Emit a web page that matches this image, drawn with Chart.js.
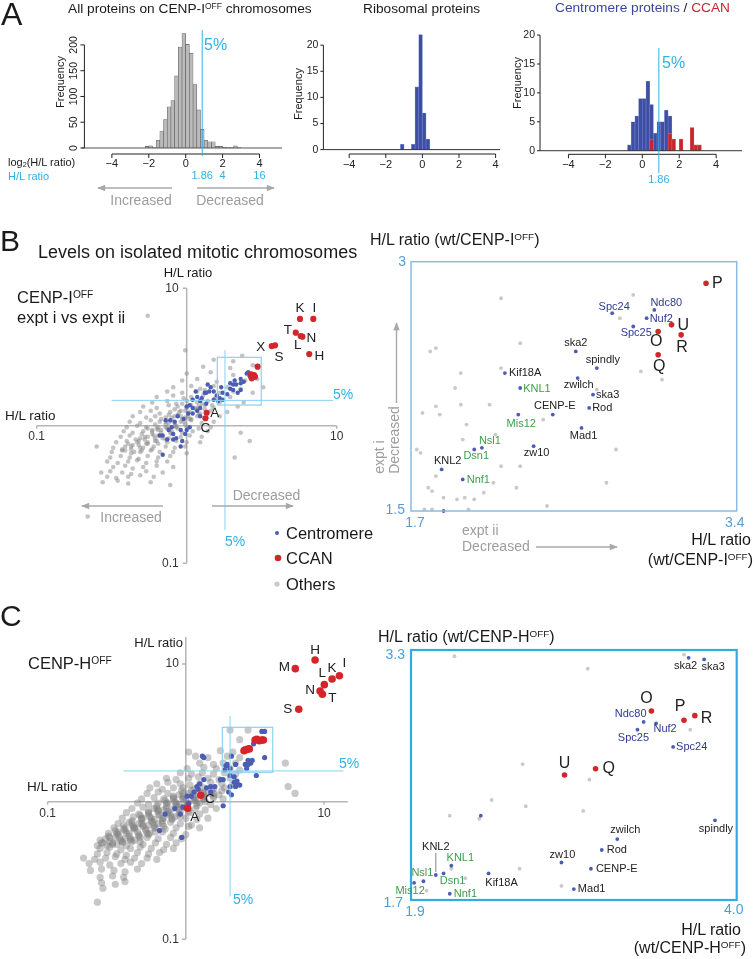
<!DOCTYPE html>
<html><head><meta charset="utf-8">
<script src="https://cdn.jsdelivr.net/npm/chart.js@4.4.1/dist/chart.umd.min.js"></script>
<style>
html,body{margin:0;padding:0;background:#fff;}
#fig{position:relative;width:754px;height:959px;overflow:hidden;font-family:"Liberation Sans",Arial,Helvetica,sans-serif;}
#fig canvas{position:absolute;left:0;top:0;}
#fig svg{position:absolute;left:0;top:0;}
.t{position:absolute;white-space:nowrap;line-height:1;}
</style></head><body><div id="fig"></div>
<script>
// ================= DATA =================
// Panel A : histograms of log2(H/L ratio), bin width 0.2 (bin centres)
const allBins   = [-2.1,-1.9,-1.7,-1.5,-1.3,-1.1,-0.9,-0.7,-0.5,-0.3,-0.1,0.1,0.3,0.5,0.7,0.9,1.1,1.3,1.5,1.7,1.9,2.1,2.3,2.5,2.7,2.9];
const allCounts = [3,4,1,15,33,55,80,92,140,196,222,201,184,123,74,36,15,12,12,3,3,2,1,1,4,1];
const riboBins   = [-1.1,-0.5,-0.3,-0.1,0.1,0.3];
const riboCounts = [1,1,12,22,7,2];
const centroBins   = [-0.7,-0.5,-0.3,-0.1,0.1,0.3,0.5,0.7,0.9,1.1,1.3,1.5];
const centroCounts = [1,5,6,9,9,12,8,3,5,5,7,6];
const ccanBins   = [0.5,1.5,1.7,2.1,2.7,2.9,3.1];
const ccanCounts = [2,3,2,2,4,1,1];
const log2Ticks = [-4,-2,0,2,4];
const log2TickLabels = ['\u22124','\u22122','0','2','4'];
const freqTicksAll = [0,50,100,150,200];
const freqTicksSmall = [0,5,10,15,20];
const ratioTicks = [1.86,4,16];
const cutoffRatio = 1.86;

// Panel B left : log10(H/L ratio), x = expt ii, y = expt i
const bCcanNames = ['K','I','T','L','N','X','S','H','','','','','','','A','C'];
const bCcanX = [0.755,0.844,0.727,0.760,0.771,0.567,0.589,0.817,0.473,0.429,0.449,0.433,0.455,0.440,0.133,0.125];
const bCcanY = [0.777,0.777,0.677,0.653,0.648,0.580,0.585,0.522,0.430,0.375,0.369,0.345,0.357,0.362,0.095,0.055];
const bCentromere = [[-0.16,-0.21],[-0.04,-0.15],[-0.03,-0.11],[-0.09,-0.06],[-0.07,-0.09],[-0.12,-0.03],[-0.16,-0.07],[-0.18,-0.07],[-0.10,-0.01],[-0.08,0.03],[-0.11,0.04],[-0.14,0.04],[-0.06,0.07],[-0.02,0.05],[0.01,0.09],[0.02,0.15],[0.04,0.13],[0.07,0.11],[0.09,0.07],[0.04,0.19],[0.07,0.21],[0.09,0.18],[0.10,0.20],[0.13,0.16],[0.13,0.24],[0.16,0.28],[0.15,0.25],[0.18,0.19],[0.20,0.22],[0.21,0.18],[0.22,0.20],[0.24,0.19],[0.24,0.24],[0.23,0.28],[0.27,0.23],[0.29,0.31],[0.29,0.27],[0.31,0.26],[0.32,0.33],[0.33,0.30],[0.34,0.24],[0.36,0.31],[0.36,0.34],[0.38,0.32],[0.40,0.38],[0.41,0.39],[0.42,0.36],[0.44,0.37],[0.14,0.30],[0.12,0.24],[0.09,0.13],[0.00,-0.03],[0.02,-0.01],[-0.01,-0.06],[-0.04,-0.03],[0.04,0.09],[-0.09,-0.10],[-0.13,-0.10],[0.00,0.14],[0.06,0.25],[0.18,0.25],[0.36,0.26],[0.31,0.30]];
const bOthers = [[-0.26,0.80],[-0.01,0.55],[0.37,0.51],[0.18,0.48],[0.31,0.47],[0.11,0.43],[0.29,0.42],[0.44,0.44],[0.00,0.38],[0.16,0.39],[0.31,0.37],[0.41,0.38],[-0.03,0.33],[0.07,0.34],[0.20,0.32],[0.39,0.33],[0.47,0.34],[-0.09,0.28],[0.03,0.29],[0.09,0.27],[0.18,0.29],[0.27,0.28],[0.36,0.27],[0.51,0.28],[-0.13,0.25],[-0.03,0.24],[0.07,0.25],[0.12,0.26],[0.22,0.24],[0.31,0.25],[0.44,0.24],[-0.20,0.21],[-0.09,0.22],[-0.02,0.20],[0.03,0.21],[0.11,0.22],[0.19,0.20],[0.29,0.21],[-0.23,0.17],[-0.13,0.18],[-0.07,0.16],[0.00,0.18],[0.07,0.17],[0.14,0.18],[0.22,0.17],[0.38,0.17],[-0.29,0.14],[-0.20,0.13],[-0.12,0.15],[-0.06,0.14],[0.00,0.13],[0.08,0.14],[0.18,0.13],[0.34,0.14],[-0.31,0.10],[-0.24,0.11],[-0.18,0.09],[-0.11,0.10],[-0.04,0.11],[0.02,0.10],[0.09,0.09],[0.16,0.11],[0.27,0.10],[-0.36,0.07],[-0.27,0.06],[-0.21,0.07],[-0.14,0.06],[-0.08,0.07],[-0.01,0.06],[0.07,0.07],[0.13,0.06],[0.22,0.07],[-0.38,0.03],[-0.31,0.02],[-0.24,0.04],[-0.18,0.03],[-0.12,0.02],[-0.04,0.03],[0.03,0.04],[0.10,0.02],[0.18,0.03],[-0.40,-0.01],[-0.33,0.00],[-0.27,-0.01],[-0.20,-0.02],[-0.14,-0.01],[-0.07,0.00],[0.00,-0.01],[0.08,-0.02],[0.16,-0.01],[-0.42,-0.04],[-0.36,-0.05],[-0.29,-0.04],[-0.23,-0.03],[-0.17,-0.05],[-0.10,-0.04],[-0.03,-0.05],[0.04,-0.04],[0.14,-0.04],[0.36,-0.05],[-0.44,-0.08],[-0.38,-0.07],[-0.31,-0.09],[-0.26,-0.08],[-0.19,-0.07],[-0.12,-0.09],[-0.04,-0.08],[0.02,-0.07],[0.10,-0.08],[-0.47,-0.12],[-0.40,-0.11],[-0.33,-0.12],[-0.27,-0.13],[-0.21,-0.11],[-0.13,-0.12],[-0.07,-0.11],[0.00,-0.12],[0.09,-0.12],[0.42,-0.11],[-0.60,-0.15],[-0.49,-0.16],[-0.41,-0.15],[-0.36,-0.14],[-0.29,-0.16],[-0.22,-0.15],[-0.14,-0.15],[-0.08,-0.16],[-0.01,-0.15],[-0.50,-0.19],[-0.43,-0.18],[-0.37,-0.20],[-0.31,-0.19],[-0.24,-0.18],[-0.18,-0.19],[-0.09,-0.19],[0.00,-0.20],[-0.51,-0.23],[-0.44,-0.22],[-0.38,-0.23],[-0.32,-0.24],[-0.26,-0.22],[-0.19,-0.23],[-0.11,-0.22],[0.32,-0.23],[-0.53,-0.26],[-0.46,-0.27],[-0.39,-0.26],[-0.33,-0.25],[-0.27,-0.27],[-0.20,-0.26],[-0.13,-0.26],[-0.49,-0.30],[-0.41,-0.29],[-0.36,-0.31],[-0.29,-0.30],[-0.20,-0.29],[-0.09,-0.30],[-0.57,-0.34],[-0.51,-0.33],[-0.43,-0.34],[-0.37,-0.35],[-0.27,-0.33],[-0.16,-0.34],[-0.53,-0.37],[-0.47,-0.38],[-0.39,-0.37],[-0.31,-0.36],[-0.22,-0.37],[-0.56,-0.41],[-0.46,-0.40],[-0.39,-0.42],[-0.24,-0.41],[-0.11,-0.43],[-0.66,-0.66],[-0.03,0.16],[0.03,0.15],[0.10,0.16],[0.17,0.15],[-0.08,0.12],[-0.01,0.11],[0.06,0.12],[0.12,0.12],[-0.12,0.08],[-0.06,0.08],[0.01,0.07],[0.08,0.08],[-0.17,0.05],[-0.10,0.04],[-0.03,0.05],[0.03,0.05],[-0.21,0.01],[-0.14,0.01],[-0.08,0.00],[-0.01,0.01],[-0.26,-0.02],[-0.19,-0.03],[-0.12,-0.02],[-0.06,-0.02],[-0.30,-0.06],[-0.23,-0.06],[-0.17,-0.07],[-0.10,-0.06],[-0.34,-0.10],[-0.28,-0.10],[-0.21,-0.09],[-0.14,-0.10],[-0.39,-0.13],[-0.32,-0.14],[-0.26,-0.13],[-0.19,-0.13],[-0.43,-0.17],[-0.37,-0.17],[-0.30,-0.18],[-0.23,-0.17],[0.00,0.14],[0.06,0.13],[0.12,0.15],[-0.05,0.10],[0.01,0.09],[0.07,0.11],[-0.10,0.06],[-0.04,0.07],[0.02,0.05],[-0.14,0.03],[-0.08,0.02],[-0.02,0.03],[-0.19,-0.01],[-0.13,-0.02],[-0.07,-0.01],[-0.23,-0.04],[-0.17,-0.03],[-0.11,-0.05],[-0.28,-0.08],[-0.22,-0.07],[-0.16,-0.09],[-0.32,-0.11],[-0.26,-0.12],[-0.20,-0.11],[-0.37,-0.15],[-0.31,-0.16],[-0.41,-0.18],[-0.35,-0.19]];
const bCutoff = {x:0.255, y:0.185};          // log10 of the 5% thresholds
const bZoomBox = {x0:0.204, x1:0.497, y0:0.151, y1:0.498};

// Panel B right : H/L ratio (zoom)
const bzCcanNames = ['P','U','R','O','Q'];
const bzCcanX = [3.24,3.06,3.11,2.99,2.99];
const bzCcanY = [2.87,2.62,2.56,2.58,2.44];
const bzCentroNames = ['Spc24','Ndc80','Nuf2','Spc25','ska2','spindly','Kif18A','zwilch','KNL1','ska3','Rod','CENP-E','Mis12','Mad1','Nsl1','Dsn1','zw10','KNL2','Nnf1',''];
const bzCentroX = [2.75,2.97,2.93,2.86,2.56,2.67,2.19,2.57,2.27,2.65,2.63,2.44,2.26,2.59,2.07,2.03,2.34,1.86,1.97,1.87];
const bzCentroY = [2.69,2.71,2.66,2.61,2.46,2.36,2.33,2.30,2.24,2.20,2.12,2.08,2.08,2.00,1.88,1.87,1.89,1.75,1.69,1.50];
const bzOthers = [[2.17,2.78],[2.86,2.80],[2.79,2.66],[2.27,2.51],[1.80,2.46],[1.83,2.48],[1.96,2.33],[2.17,2.36],[2.90,2.34],[3.01,2.29],[2.67,2.23],[1.93,2.24],[1.83,2.13],[1.96,2.14],[2.11,2.14],[1.76,2.09],[1.85,2.08],[2.39,2.05],[1.99,2.02],[2.14,1.96],[1.97,1.93],[1.73,1.87],[1.75,1.85],[2.77,1.87],[2.17,1.77],[2.27,1.77],[1.83,1.71],[2.13,1.67],[2.25,1.64],[2.72,1.67],[1.79,1.64],[1.81,1.62],[1.87,1.58],[1.94,1.57],[1.98,1.58],[2.03,1.57],[2.08,1.61],[2.41,1.53],[1.77,1.51],[1.81,1.51],[2.00,1.51]];
const bzRangeX = [1.7,3.4], bzRangeY = [1.5,3];

// Panel C left : log10(H/L ratio)
const cCcanNames = ['H','M','I','K','L','N','T','S','','','','','','','','','','C','A'];
const cCcanX = [0.935,0.792,1.111,1.058,1.002,0.971,0.988,0.817,0.428,0.445,0.459,0.421,0.501,0.513,0.532,0.549,0.561,0.108,0.014];
const cCcanY = [1.029,0.966,0.915,0.891,0.850,0.804,0.780,0.671,0.375,0.380,0.383,0.370,0.448,0.453,0.443,0.448,0.448,0.046,-0.048];
const cCentromere = [[0.12,0.33],[0.13,0.32],[0.33,0.33],[0.36,0.27],[0.30,0.27],[0.32,0.24],[0.29,0.26],[0.28,0.23],[0.32,0.19],[0.35,0.18],[0.37,0.13],[0.36,0.11],[0.32,0.11],[0.31,0.07],[0.33,0.05],[0.27,0.16],[0.25,0.16],[0.21,0.11],[0.18,0.11],[0.15,0.10],[0.09,0.09],[0.06,0.07],[0.04,0.04],[0.01,0.04],[0.02,-0.01],[-0.02,-0.04],[-0.04,-0.09],[-0.08,-0.05],[-0.15,-0.09],[-0.19,-0.21],[-0.03,-0.26],[0.45,0.30],[0.44,0.24],[0.47,0.28],[0.48,0.30],[0.43,0.27],[0.45,0.27],[0.51,0.19],[0.57,0.32],[0.55,0.51],[0.57,0.51],[0.49,0.42],[0.50,0.44],[0.44,0.38],[0.42,0.38],[0.27,-0.03],[0.08,0.11],[0.10,0.13],[0.13,0.16],[0.39,0.12],[0.37,0.15],[0.18,0.07],[0.35,0.14]];
const cOthers = [[0.32,0.52],[0.45,0.52],[0.39,0.45],[0.02,0.36],[0.25,0.37],[0.34,0.36],[0.07,0.33],[0.16,0.32],[0.30,0.33],[0.39,0.32],[0.72,0.28],[0.10,0.28],[0.20,0.27],[0.27,0.28],[0.36,0.28],[0.01,0.24],[0.13,0.25],[0.22,0.24],[0.32,0.24],[0.39,0.23],[-0.04,0.21],[0.04,0.20],[0.12,0.21],[0.20,0.20],[0.28,0.21],[0.36,0.20],[-0.14,0.17],[-0.07,0.16],[0.02,0.17],[0.09,0.18],[0.16,0.17],[0.24,0.16],[0.32,0.17],[-0.21,0.13],[-0.13,0.14],[-0.04,0.13],[0.03,0.12],[0.10,0.13],[0.18,0.14],[0.26,0.13],[0.34,0.12],[0.74,0.11],[-0.26,0.10],[-0.17,0.09],[-0.09,0.10],[-0.02,0.10],[0.06,0.09],[0.13,0.10],[0.20,0.09],[0.28,0.10],[-0.28,0.06],[-0.20,0.07],[-0.13,0.06],[-0.05,0.05],[0.02,0.06],[0.09,0.07],[0.16,0.06],[0.24,0.05],[0.79,0.06],[-0.32,0.02],[-0.23,0.03],[-0.16,0.02],[-0.09,0.03],[-0.02,0.02],[0.06,0.03],[0.13,0.02],[0.20,0.03],[0.27,0.02],[-0.35,-0.01],[-0.27,-0.02],[-0.20,-0.01],[-0.13,-0.01],[-0.05,-0.02],[0.02,-0.01],[0.10,-0.01],[0.18,-0.02],[-0.39,-0.05],[-0.31,-0.04],[-0.23,-0.05],[-0.16,-0.06],[-0.09,-0.05],[-0.02,-0.04],[0.07,-0.05],[0.14,-0.06],[0.22,-0.05],[-0.43,-0.08],[-0.34,-0.09],[-0.27,-0.08],[-0.20,-0.07],[-0.13,-0.09],[-0.04,-0.08],[0.03,-0.08],[0.10,-0.09],[-0.46,-0.12],[-0.38,-0.11],[-0.31,-0.12],[-0.23,-0.13],[-0.16,-0.12],[-0.08,-0.11],[0.00,-0.12],[0.08,-0.13],[0.16,-0.12],[-0.49,-0.16],[-0.41,-0.15],[-0.34,-0.16],[-0.27,-0.17],[-0.20,-0.16],[-0.11,-0.15],[-0.04,-0.16],[0.04,-0.17],[-0.52,-0.19],[-0.45,-0.20],[-0.38,-0.19],[-0.31,-0.18],[-0.23,-0.19],[-0.15,-0.20],[-0.07,-0.19],[0.02,-0.18],[0.10,-0.19],[-0.56,-0.23],[-0.49,-0.22],[-0.41,-0.23],[-0.34,-0.24],[-0.26,-0.23],[-0.17,-0.22],[-0.09,-0.23],[0.00,-0.24],[-0.58,-0.27],[-0.51,-0.26],[-0.44,-0.27],[-0.37,-0.28],[-0.28,-0.26],[-0.20,-0.27],[-0.11,-0.26],[-0.03,-0.27],[-0.61,-0.30],[-0.53,-0.31],[-0.46,-0.30],[-0.39,-0.29],[-0.31,-0.31],[-0.22,-0.30],[-0.14,-0.31],[-0.07,-0.30],[-0.62,-0.34],[-0.55,-0.33],[-0.47,-0.35],[-0.40,-0.34],[-0.33,-0.33],[-0.25,-0.34],[-0.16,-0.35],[-0.09,-0.34],[-0.64,-0.38],[-0.57,-0.37],[-0.50,-0.38],[-0.43,-0.39],[-0.35,-0.37],[-0.27,-0.38],[-0.19,-0.37],[-0.74,-0.41],[-0.66,-0.42],[-0.58,-0.41],[-0.51,-0.40],[-0.44,-0.42],[-0.37,-0.41],[-0.28,-0.41],[-0.21,-0.42],[-0.70,-0.45],[-0.62,-0.44],[-0.55,-0.46],[-0.47,-0.45],[-0.40,-0.44],[-0.32,-0.45],[-0.69,-0.50],[-0.61,-0.49],[-0.52,-0.50],[-0.44,-0.51],[-0.35,-0.49],[-0.62,-0.55],[-0.53,-0.54],[-0.45,-0.55],[-0.61,-0.59],[-0.51,-0.60],[-0.44,-0.58],[-0.60,-0.63],[-0.64,-0.73],[-0.03,0.08],[0.04,0.08],[0.12,0.07],[0.19,0.08],[0.26,0.08],[-0.09,0.04],[-0.02,0.04],[0.06,0.03],[0.13,0.04],[0.20,0.04],[-0.15,0.01],[-0.08,0.00],[0.00,0.01],[0.07,0.01],[0.14,0.00],[-0.21,-0.03],[-0.14,-0.03],[-0.07,-0.02],[0.01,-0.03],[0.08,-0.03],[-0.27,-0.07],[-0.20,-0.06],[-0.13,-0.07],[-0.05,-0.06],[0.02,-0.07],[-0.33,-0.10],[-0.26,-0.11],[-0.19,-0.10],[-0.11,-0.10],[-0.04,-0.11],[-0.39,-0.14],[-0.32,-0.13],[-0.25,-0.14],[-0.17,-0.14],[-0.10,-0.13],[-0.45,-0.17],[-0.38,-0.18],[-0.31,-0.17],[-0.23,-0.17],[-0.16,-0.18],[-0.51,-0.21],[-0.44,-0.21],[-0.37,-0.20],[-0.29,-0.21],[-0.22,-0.22],[-0.56,-0.25],[-0.49,-0.24],[-0.41,-0.25],[-0.34,-0.25],[-0.27,-0.24],[-0.62,-0.28],[-0.55,-0.29],[-0.47,-0.28],[-0.40,-0.28],[-0.33,-0.29],[-0.64,-0.32],[-0.57,-0.32],[-0.50,-0.31],[-0.43,-0.32],[-0.02,0.06],[0.05,0.05],[0.13,0.06],[0.20,0.06],[-0.09,0.02],[-0.02,0.02],[0.06,0.01],[0.13,0.02],[-0.14,-0.01],[-0.07,-0.01],[0.01,-0.02],[0.08,-0.01],[-0.21,-0.05],[-0.14,-0.05],[-0.06,-0.04],[0.01,-0.05],[-0.27,-0.09],[-0.20,-0.09],[-0.12,-0.08],[-0.05,-0.09],[-0.32,-0.12],[-0.25,-0.12],[-0.17,-0.12],[-0.10,-0.12],[-0.39,-0.16],[-0.32,-0.16],[-0.24,-0.15],[-0.17,-0.16],[-0.44,-0.19],[-0.37,-0.19],[-0.29,-0.20],[-0.22,-0.19],[-0.50,-0.23],[-0.43,-0.23],[-0.35,-0.22],[-0.28,-0.23],[-0.55,-0.26],[-0.48,-0.26],[-0.40,-0.27],[-0.33,-0.26],[-0.60,-0.30],[-0.53,-0.30],[-0.46,-0.29]];
const cCutoff = {x:0.32, y:0.223};
const cZoomBox = {x0:0.264, x1:0.629, y0:0.2135, y1:0.54};

// Panel C right : H/L ratio (zoom)
const czCcanNames = ['O','P','R','U','Q'];
const czCcanX = [3.45,3.66,3.73,2.89,3.09];
const czCcanY = [2.91,2.85,2.88,2.50,2.54];
const czCentroNames = ['ska2','ska3','Ndc80','Nuf2','Spc25','Spc24','spindly','zwilch','Rod','CENP-E','zw10','Mad1','Kif18A','KNL2','KNL1','Dsn1','Nsl1','Mis12','Nnf1',''];
const czCentroX = [3.69,3.79,3.40,3.48,3.36,3.59,3.86,3.23,3.13,3.06,2.87,2.95,2.40,2.06,2.16,2.11,1.98,1.92,2.15,2.35];
const czCentroY = [3.25,3.24,2.84,2.83,2.79,2.68,2.21,2.09,2.02,1.90,1.94,1.77,1.87,1.86,1.92,1.87,1.82,1.81,1.74,2.24];
const czOthers = [[2.18,3.26],[3.04,3.18],[3.66,3.27],[3.70,2.79],[2.62,2.57],[3.05,2.47],[2.42,2.34],[2.64,2.30],[3.01,2.27],[2.15,2.24],[2.34,2.22],[2.60,1.90],[2.87,1.79],[2.16,1.90],[2.25,1.84],[2.00,1.76]];
const czRangeX = [1.9,4.0], czRangeY = [1.7,3.3];

const kmnNames = ['KNL1','Mis12','Nsl1','Dsn1','Nnf1'];
const ndc80Names = ['Spc24','Ndc80','Nuf2','Spc25'];

// ================= STYLE / LAYOUT =================
const FF = '"Liberation Sans", Arial, Helvetica, sans-serif';
const f = s => `${s}px ${FF}`;
const CYAN = '#33b0e3', CYAN_L = '#8ad2f0', GRAYT = '#9d9d9d';
const BLUE_BAR = '#3e4fa3', RED_BAR = '#c1272d';
const BLUE_PT = '#4c5db4', RED_PT = '#d3262b';
const GREEN_T = '#3e9d4a', NAVY_T = '#2d3a91';
Chart.defaults.font.family = FF;

const bLeftLabelPos = {K:[0,-11],I:[1,-11],T:[-8,-2],L:[-3,9],N:[9,2],X:[-11,1],S:[4,12],H:[10,2],A:[8,1],C:[0,10]};
const cLeftLabelPos = {H:[0,-10],M:[-11,-1],I:[5,-12],K:[0,-11],L:[-2,-11],N:[-10,-1],T:[10,4],S:[-11,0],C:[9,4],A:[7,9]};
const bzLabelPos = {P:[6,0,'left'],U:[6,1,'left'],R:[1,13],O:[-2,10],Q:[1,12],Spc24:[2,-6],Ndc80:[12,-7],Nuf2:[3,1,'left'],Spc25:[3,6],ska2:[0,-8],spindly:[6,-8],Kif18A:[4,0,'left'],zwilch:[1,7],KNL1:[3,1,'left'],ska3:[3,0,'left'],Rod:[3,0,'left'],'CENP-E':[2,-9],Mis12:[3,9],Mad1:[2,8],Nsl1:[8,-7],Dsn1:[2,6],zw10:[3,7],KNL2:[6,-8],Nnf1:[4,1,'left']};
const czLabelPos = {O:[-5,-12],P:[-4,-14],R:[6,3,'left'],U:[0,-11],Q:[7,0,'left'],ska2:[-3,8],ska3:[9,8],Ndc80:[-13,-8],Nuf2:[9,6],Spc25:[-4,8],Spc24:[3,0,'left'],spindly:[1,9],zwilch:[8,-9],Rod:[5,0,'left'],'CENP-E':[5,0,'left'],zw10:[1,-8],Mad1:[4,0,'left'],Kif18A:[13,10],KNL2:[0,-28],KNL1:[9,-8],Dsn1:[9,8],Nsl1:[-1,-8],Mis12:[-4,8],Nnf1:[4,0,'left']};

// ================= DRAWING HELPERS =================
const fig = document.getElementById('fig');

function renderItems(chart, items){
  if(!items) return;
  const ctx = chart.ctx, xs = chart.scales.x, ys = chart.scales.y;
  const X = v => xs.getPixelForValue(v), Y = v => ys.getPixelForValue(v);
  ctx.save();
  for(const it of items){
    ctx.lineWidth = it.w || 1;
    ctx.strokeStyle = it.color || '#222';
    ctx.fillStyle = it.color || '#222';
    if(it.t==='seg'){
      ctx.beginPath();
      ctx.moveTo(X(it.x0), Y(it.y0)+(it.dy0||0));
      ctx.lineTo(X(it.x1), Y(it.y1)+(it.dy1||0));
      ctx.stroke();
    } else if(it.t==='rect'){
      ctx.strokeRect(X(it.x0), Y(it.y1), X(it.x1)-X(it.x0), Y(it.y0)-Y(it.y1));
    } else if(it.t==='xaxis'){
      const y = Y(it.at);
      const lo = it.lo ?? it.vals[0], hi = it.hi ?? it.vals[it.vals.length-1];
      ctx.beginPath(); ctx.moveTo(X(lo), y); ctx.lineTo(X(hi), y);
      if(it.tick) it.vals.forEach(v=>{ctx.moveTo(X(v), y); ctx.lineTo(X(v), y+it.tick);});
      ctx.stroke();
      ctx.font = it.font; ctx.fillStyle = it.tc || '#222';
      ctx.textAlign='center'; ctx.textBaseline='middle';
      it.vals.forEach((v,i)=>ctx.fillText(it.labels[i], X(v), y+it.gap));
    } else if(it.t==='yaxis'){
      const x = X(it.at);
      const lo = it.lo ?? it.vals[0], hi = it.hi ?? it.vals[it.vals.length-1];
      ctx.beginPath(); ctx.moveTo(x, Y(lo)); ctx.lineTo(x, Y(hi));
      if(it.tick) it.vals.forEach(v=>{ctx.moveTo(x, Y(v)); ctx.lineTo(x-it.tick, Y(v));});
      ctx.stroke();
      ctx.font = it.font; ctx.fillStyle = it.tc || '#222'; ctx.textBaseline='middle';
      it.vals.forEach((v,i)=>{
        if(it.rot){ ctx.save(); ctx.translate(x-it.gap, Y(v)); ctx.rotate(-Math.PI/2); ctx.textAlign='center'; ctx.fillText(it.labels[i],0,0); ctx.restore(); }
        else { ctx.textAlign='right'; ctx.fillText(it.labels[i], x-it.gap, Y(v)); }
      });
    } else if(it.t==='text'){
      ctx.font = it.font; ctx.textAlign = it.align || 'center'; ctx.textBaseline='middle';
      const px = it.px !== undefined ? it.px : X(it.x)+(it.dx||0);
      const py = it.py !== undefined ? it.py : Y(it.y)+(it.dy||0);
      ctx.fillText(it.text, px, py);
    }
  }
  ctx.restore();
}
const deco = {
  id:'deco',
  beforeDatasetsDraw(chart, args, opts){ renderItems(chart, opts.under); },
  afterDatasetsDraw(chart, args, opts){ renderItems(chart, opts.over); }
};

function makeChart(type, area, xr, yr, datasets, under, over){
  const c = document.createElement('canvas');
  c.width = 754; c.height = 959;
  c.style.width = '754px'; c.style.height = '959px';
  fig.appendChild(c);
  return new Chart(c, {
    type, data:{datasets},
    options:{
      responsive:false, animation:false, devicePixelRatio:1, events:[],
      layout:{padding:{left:area[0], top:area[1], right:754-area[2], bottom:959-area[3]}},
      scales:{
        x:{type:'linear', display:false, min:xr[0], max:xr[1], offset:false},
        y:{type:'linear', display:false, min:yr[0], max:yr[1]}
      },
      plugins:{legend:{display:false}, tooltip:{enabled:false}, deco:{under, over}}
    },
    plugins:[deco]
  });
}
const barSet = (bins, counts, fill, border) => ({
  data: bins.map((x,i)=>({x, y:counts[i]})),
  backgroundColor: fill, borderColor: border, borderWidth: 0.6,
  barPercentage:1, categoryPercentage:1, grouped:false
});
const ptSet = (pts, color, r) => ({
  data: pts, pointRadius:r, pointHoverRadius:r, pointBackgroundColor:color,
  pointBorderWidth:0, borderWidth:0, showLine:false, clip:false
});
const pairs = arr => arr.map(p=>({x:p[0], y:p[1]}));
const zipXY = (xs, ys) => xs.map((x,i)=>({x, y:ys[i]}));
function pointLabels(names, xs, ys, pos, fontFn, colorFn){
  const out = [];
  names.forEach((n,i)=>{
    if(!n || !pos[n]) return;
    const p = pos[n];
    out.push({t:'text', x:xs[i], y:ys[i], dx:p[0], dy:p[1], align:p[2]||'center', text:n, font:fontFn(n), color:colorFn(n)});
  });
  return out;
}
const geneColor = n => kmnNames.includes(n) ? GREEN_T : (ndc80Names.includes(n) ? NAVY_T : '#222');

// ================= PANEL A =================
const cut2 = Math.log2(cutoffRatio);
makeChart('bar', [82,30,282,154], [-5.62,5.22], [-11.65,229],
  [barSet(allBins, allCounts, '#bababa', '#5f5f5f')],
  [],
  [
    {t:'seg', x0:-5.62, x1:5.22, y0:0, y1:0, color:'#555', w:1},
    {t:'xaxis', at:-11.65, vals:log2Ticks, labels:log2TickLabels, tick:4, gap:10, font:f(11)},
    {t:'yaxis', at:-5.49, vals:freqTicksAll, labels:freqTicksAll.map(String), tick:4, gap:10, rot:true, font:f(10.5)},
    {t:'seg', x0:cut2, x1:cut2, y0:-15.5, y1:229, color:CYAN, w:1},
    ...ratioTicks.map(r=>({t:'text', x:Math.log2(r), py:176, text:String(r), font:f(11), color:CYAN}))
  ]);
makeChart('bar', [321,30,500,154], [-5.54,4.24], [-0.84,22.9],
  [barSet(riboBins, riboCounts, BLUE_BAR, '#7282c8')],
  [],
  [
    {t:'seg', x0:-5.41, x1:4.24, y0:0, y1:0, color:'#333', w:1},
    {t:'xaxis', at:-0.84, vals:log2Ticks, labels:log2TickLabels, tick:4, gap:11, font:f(11)},
    {t:'yaxis', at:-5.41, vals:freqTicksSmall, labels:freqTicksSmall.map(String), tick:3, gap:5, font:f(10.5)}
  ]);
makeChart('bar', [538,30,742,154.3], [-5.65,5.4], [-0.62,20.88],
  [barSet(ccanBins, ccanCounts, RED_BAR, '#e2585c'), barSet(centroBins, centroCounts, BLUE_BAR, '#7282c8')],
  [],
  [
    {t:'seg', x0:-5.54, x1:5.4, y0:0, y1:0, color:'#333', w:1},
    {t:'xaxis', at:-0.62, vals:log2Ticks, labels:log2TickLabels, tick:4, gap:11, font:f(11)},
    {t:'yaxis', at:-5.54, vals:freqTicksSmall, labels:freqTicksSmall.map(String), tick:3, gap:5, font:f(10.5)},
    {t:'seg', x0:cut2, x1:cut2, y0:-3.86, y1:17.77, color:CYAN, w:1},
    {t:'text', x:cut2, py:180, text:String(cutoffRatio), font:f(11), color:CYAN}
  ]);

// ================= PANEL B =================
const logAxisLabels = ['0.1','10'];
makeChart('scatter', [36.7,288.3,336.7,563.3], [-1,1], [-1,1],
  [ptSet(zipXY(bCcanX,bCcanY), RED_PT, 3.1), ptSet(pairs(bCentromere), BLUE_PT, 2.2), ptSet(pairs(bOthers), 'rgba(135,135,135,0.5)', 2.3)],
  [
    {t:'xaxis', at:0, vals:[-1,1], labels:logAxisLabels, tick:3, gap:11, font:f(12), color:'#b5b5b5', w:1.5, tc:'#333'},
    {t:'yaxis', at:0, vals:[-1,1], labels:logAxisLabels, tick:4, gap:8, font:f(12), color:'#b5b5b5', w:1.5, tc:'#333'}
  ],
  [
    {t:'seg', x0:-0.5, x1:0.977, y0:bCutoff.y, y1:bCutoff.y, color:CYAN_L, w:1},
    {t:'seg', x0:bCutoff.x, x1:bCutoff.x, y0:0.551, y1:-0.758, color:CYAN_L, w:1},
    {t:'rect', ...bZoomBox, color:CYAN_L, w:1.2},
    ...pointLabels(bCcanNames, bCcanX, bCcanY, bLeftLabelPos, ()=>f(13.5), ()=>'#222')
  ]);
makeChart('scatter', [411,261.7,736.7,511], bzRangeX, bzRangeY,
  [ptSet(zipXY(bzCcanX,bzCcanY), RED_PT, 2.8), ptSet(zipXY(bzCentroX,bzCentroY), BLUE_PT, 1.9), ptSet(pairs(bzOthers), '#c9c9c9', 1.9)],
  [],
  [
    {t:'rect', x0:bzRangeX[0], x1:bzRangeX[1], y0:bzRangeY[0], y1:bzRangeY[1], color:'#8bbbe6', w:1.5},
    {t:'text', x:bzRangeX[0], y:bzRangeY[1], dx:-5, dy:0, align:'right', text:String(bzRangeY[1]), font:f(14), color:'#5b9bd5'},
    {t:'text', x:bzRangeX[0], y:bzRangeY[0], dx:-6, dy:-1, align:'right', text:String(bzRangeY[0]), font:f(14), color:'#5b9bd5'},
    {t:'text', x:bzRangeX[0], y:bzRangeY[0], dx:4, dy:12, text:String(bzRangeX[0]), font:f(14), color:'#5b9bd5'},
    {t:'text', x:bzRangeX[1], y:bzRangeY[0], dx:-2, dy:12, text:String(bzRangeX[1]), font:f(14), color:'#5b9bd5'},
    ...pointLabels(bzCcanNames, bzCcanX, bzCcanY, bzLabelPos, ()=>f(16), ()=>'#222'),
    ...pointLabels(bzCentroNames, bzCentroX, bzCentroY, bzLabelPos, ()=>f(11), geneColor)
  ]);

// ================= PANEL C =================
const knl2i = czCentroNames.indexOf('KNL2');
makeChart('scatter', [47.6,637,347.7,939.3], [-1,1.171], [-1,1.196],
  [ptSet(zipXY(cCcanX,cCcanY), RED_PT, 3.8), ptSet(pairs(cCentromere), BLUE_PT, 2.6), ptSet(pairs(cOthers), 'rgba(125,125,125,0.42)', 3.6)],
  [
    {t:'xaxis', at:0, vals:[-1,1], lo:-1, hi:1.171, labels:logAxisLabels, tick:3, gap:12, font:f(12), color:'#b5b5b5', w:1.5, tc:'#333'},
    {t:'yaxis', at:0, vals:[-1,1], lo:-1, hi:1.196, labels:logAxisLabels, tick:4, gap:7, font:f(12), color:'#b5b5b5', w:1.5, tc:'#333'}
  ],
  [
    {t:'seg', x0:-0.452, x1:1.14, y0:cCutoff.y, y1:cCutoff.y, color:CYAN_L, w:1},
    {t:'seg', x0:cCutoff.x, x1:cCutoff.x, y0:0.622, y1:-0.69, color:CYAN_L, w:1},
    {t:'rect', ...cZoomBox, color:CYAN_L, w:1.2},
    ...pointLabels(cCcanNames, cCcanX, cCcanY, cLeftLabelPos, ()=>f(13.5), ()=>'#222')
  ]);
makeChart('scatter', [411,650,736.7,900], czRangeX, czRangeY,
  [ptSet(zipXY(czCcanX,czCcanY), RED_PT, 2.8), ptSet(zipXY(czCentroX,czCentroY), BLUE_PT, 1.9), ptSet(pairs(czOthers), '#c9c9c9', 1.9)],
  [],
  [
    {t:'rect', x0:czRangeX[0], x1:czRangeX[1], y0:czRangeY[0], y1:czRangeY[1], color:'#31ace2', w:2.2},
    {t:'text', x:czRangeX[0], y:czRangeY[1], dx:-6, dy:5, align:'right', text:String(czRangeY[1]), font:f(14), color:'#4d9fd9'},
    {t:'text', x:czRangeX[0], y:czRangeY[0], dx:-8, dy:3, align:'right', text:String(czRangeY[0]), font:f(14), color:'#4d9fd9'},
    {t:'text', x:czRangeX[0], y:czRangeY[0], dx:4, dy:12, text:String(czRangeX[0]), font:f(14), color:'#4d9fd9'},
    {t:'text', x:czRangeX[1], y:czRangeY[0], dx:-3, dy:10, text:czRangeX[1].toFixed(1), font:f(14), color:'#4d9fd9'},
    {t:'seg', x0:czCentroX[knl2i], x1:czCentroX[knl2i], y0:czCentroY[knl2i], y1:czCentroY[knl2i], dy0:-3, dy1:-22, color:'#666', w:0.8},
    ...pointLabels(czCcanNames, czCcanX, czCcanY, czLabelPos, ()=>f(16), ()=>'#222'),
    ...pointLabels(czCentroNames, czCentroX, czCentroY, czLabelPos, ()=>f(11), geneColor)
  ]);

// ================= ARROWS & LEGEND (SVG) =================
const arrows = [[172,188,98,188],[197,188,274,188],[163,506,82,506],[212,506,293,506],[536,547,617,547],[396.5,403,396.5,323]];
let svg = '<svg width="754" height="959" xmlns="http://www.w3.org/2000/svg"><defs><marker id="ah" viewBox="0 0 10 10" refX="9" refY="5" markerWidth="9" markerHeight="8" markerUnits="userSpaceOnUse" orient="auto"><path d="M0,1 L10,5 L0,9 z" fill="#a8a8a8"/></marker></defs>';
arrows.forEach(a=>{ svg += `<line x1="${a[0]}" y1="${a[1]}" x2="${a[2]}" y2="${a[3]}" stroke="#a8a8a8" stroke-width="1.4" marker-end="url(#ah)"/>`; });
svg += `<circle cx="277" cy="533" r="2" fill="${BLUE_PT}"/><circle cx="278" cy="558" r="3.3" fill="${RED_PT}"/><circle cx="277" cy="584" r="2.6" fill="#c8c8c8"/>`;
svg += '</svg>';
fig.insertAdjacentHTML('beforeend', svg);

// ================= TEXT =================
const SUP = s => `<span style="font-size:0.62em;position:relative;top:-0.5em">${s}</span>`;
function T(html, x, y, o={}){
  const d = document.createElement('div');
  d.className = 't';
  d.innerHTML = html;
  const tx = o.a==='c' ? '-50%' : (o.a==='r' ? '-100%' : '0');
  d.style.left = x+'px'; d.style.top = y+'px';
  d.style.fontSize = (o.s||13)+'px';
  d.style.color = o.c || '#1a1a1a';
  d.style.transform = `translate(${tx},-50%)` + (o.rot ? ' rotate(-90deg)' : '');
  fig.appendChild(d);
}
T('A', 1, 14, {s:32});
T('All proteins on CENP-I'+SUP('OFF')+' chromosomes', 68, 9, {s:13.7});
T('Ribosomal proteins', 363, 9, {s:13.7});
T('<span style="color:#3a479c">Centromere proteins</span> / <span style="color:#c1272d">CCAN</span>', 555, 8, {s:13.7});
T('Frequency', 60, 82, {s:11, a:'c', rot:1});
T('Frequency', 298, 94, {s:11, a:'c', rot:1});
T('Frequency', 517, 83, {s:11, a:'c', rot:1});
T('log<sub style="font-size:0.65em;vertical-align:-0.15em">2</sub>(H/L ratio)', 8, 163, {s:11});
T('H/L ratio', 8, 176, {s:11, c:CYAN});
T('5%', 204, 45, {s:16, c:CYAN});
T('5%', 662, 63, {s:16, c:CYAN});
T('Increased', 141, 200, {s:14, c:GRAYT, a:'c'});
T('Decreased', 230, 200, {s:14, c:GRAYT, a:'c'});

T('B', 0, 241, {s:30});
T('Levels on isolated mitotic chromosomes', 38, 252, {s:18});
T('H/L ratio', 188, 272, {s:13, a:'c'});
T('CENP-I'+SUP('OFF'), 17, 297, {s:16.5});
T('expt i vs expt ii', 17, 317, {s:16.5});
T('H/L ratio', 5, 416, {s:13.5});
T('5%', 333, 394, {s:14, c:CYAN});
T('5%', 225, 541, {s:14, c:CYAN});
T('Decreased', 266.5, 495, {s:14, c:GRAYT, a:'c'});
T('Increased', 131, 517, {s:14, c:GRAYT, a:'c'});
T('Centromere', 286, 533, {s:16.5});
T('CCAN', 286, 558, {s:16.5});
T('Others', 286, 584, {s:16.5});
T('H/L ratio (wt/CENP-I'+SUP('OFF')+')', 370, 240, {s:16});
T('H/L ratio', 751, 540, {s:16, a:'r'});
T('(wt/CENP-I'+SUP('OFF')+')', 753, 560, {s:16, a:'r'});
T('expt ii', 462, 530, {s:14, c:GRAYT});
T('Decreased', 462, 546, {s:14, c:GRAYT});
T('expt i', 379, 457, {s:14, c:GRAYT, a:'c', rot:1});
T('Decreased', 394, 440, {s:14, c:GRAYT, a:'c', rot:1});

T('C', 0, 616, {s:30});
T('H/L ratio', 183, 642, {s:13, a:'r'});
T('CENP-H'+SUP('OFF'), 28, 663, {s:16.5});
T('H/L ratio', 27, 787, {s:13.5});
T('5%', 339, 763, {s:14, c:CYAN});
T('5%', 233, 899, {s:14, c:CYAN});
T('H/L ratio (wt/CENP-H'+SUP('OFF')+')', 378, 637, {s:16});
T('H/L ratio', 741, 930, {s:16, a:'r'});
T('(wt/CENP-H'+SUP('OFF')+')', 746, 948, {s:16, a:'r'});
</script></body></html>
